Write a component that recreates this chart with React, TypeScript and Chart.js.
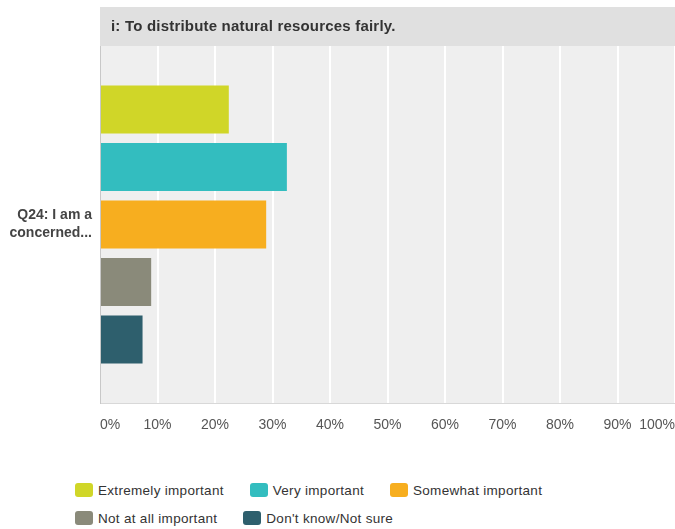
import React, { useEffect, useRef } from "react";
import { Chart, registerables } from "chart.js";

Chart.register(...registerables);

const titleText = "i: To distribute natural resources fairly.";
const categories = [["Q24: I am a", "concerned..."]];
const seriesLabels = [
  "Extremely important",
  "Very important",
  "Somewhat important",
  "Not at all important",
  "Don't know/Not sure",
];
const seriesValues = [22.4, 32.5, 28.9, 8.9, 7.4];
const seriesColors = ["#d0d628", "#33bdbf", "#f7ae1f", "#8a8a7a", "#2e5f6d"];
const xTicks = [0, 10, 20, 30, 40, 50, 60, 70, 80, 90, 100];

const FONT = "'Liberation Sans', Arial, Helvetica, sans-serif";

const bgPlugin = {
  id: "bgPlugin",
  beforeDraw(chart: any) {
    const { ctx, chartArea } = chart;
    ctx.save();
    ctx.fillStyle = "#efefef";
    ctx.fillRect(chartArea.left, chartArea.top, chartArea.right - chartArea.left, chartArea.bottom - chartArea.top);
    // title bar
    const top = 7;
    ctx.fillStyle = "#e0e0e0";
    ctx.fillRect(chartArea.left, top, chartArea.right - chartArea.left, chartArea.top - top);
    ctx.fillStyle = "#333333";
    ctx.font = `bold 15px ${FONT}`;
    try {
      (ctx as any).letterSpacing = "0.2px";
    } catch (e) {}
    ctx.textBaseline = "middle";
    ctx.textAlign = "left";
    ctx.fillText(titleText, chartArea.left + 11, (top + chartArea.top) / 2 + 0.5);
    ctx.restore();
  },
};

export default function App() {
  const ref = useRef<HTMLCanvasElement>(null);
  useEffect(() => {
    if (!ref.current) return;
    const chart = new Chart(ref.current, {
      type: "bar",
      data: {
        labels: categories as any,
        datasets: seriesLabels.map((label, i) => ({
          label,
          data: [seriesValues[i]],
          backgroundColor: seriesColors[i],
          borderWidth: 0,
          barPercentage: 0.835,
          categoryPercentage: 0.805,
        })),
      },
      options: {
        indexAxis: "y",
        animation: false,
        responsive: false,
        maintainAspectRatio: false,
        layout: { padding: { top: 46, right: 0, bottom: 0, left: 0 } },
        plugins: {
          legend: { display: false },
          title: { display: false },
          tooltip: { enabled: false },
        },
        scales: {
          x: {
            min: 0,
            max: 100,
            afterBuildTicks: (scale: any) => {
              scale.ticks = xTicks.map((v) => ({ value: v }));
            },
            afterFit: (scale: any) => {
              scale.height = 37;
              scale.paddingLeft = 0;
              scale.paddingRight = 0;
            },
            grid: { color: "#ffffff", lineWidth: 2, drawTicks: false },
            border: { display: true, color: "#d8d8d8", width: 1 },
            ticks: {
              padding: 14,
              align: "inner",
              color: "#555555",
              font: { family: FONT, size: 14 },
              callback: (v: any) => `${v}%`,
            },
          },
          y: {
            afterFit: (scale: any) => {
              scale.width = 100;
            },
            grid: { display: false, drawTicks: false },
            border: { display: true, color: "#c8c8c8", width: 1 },
            ticks: {
              padding: 8,
              color: "#444444",
              font: { family: FONT, size: 14, weight: "bold", lineHeight: 1.3 },
            },
          },
        },
      } as any,
      plugins: [bgPlugin],
    });
    return () => chart.destroy();
  }, []);

  return (
    <div style={{ position: "absolute", left: 0, top: 0, width: 675, height: 529, background: "#fff" }}>
      <canvas ref={ref} width={675} height={440} style={{ display: "block", width: 675, height: 440 }} />
      <div
        style={{
          position: "absolute",
          left: 75,
          top: 476,
          width: 600,
          display: "flex",
          flexWrap: "wrap",
          fontFamily: FONT,
          fontSize: 13.5,
          letterSpacing: "0.3px",
          color: "#333333",
        }}
      >
        {seriesLabels.map((label, i) => (
          <div key={label} style={{ display: "flex", alignItems: "center", height: 28, marginRight: 26 }}>
            <span
              style={{
                display: "inline-block",
                width: 18,
                height: 14,
                borderRadius: 3,
                background: seriesColors[i],
                marginRight: 5,
              }}
            />
            <span>{label}</span>
          </div>
        ))}
      </div>
    </div>
  );
}
